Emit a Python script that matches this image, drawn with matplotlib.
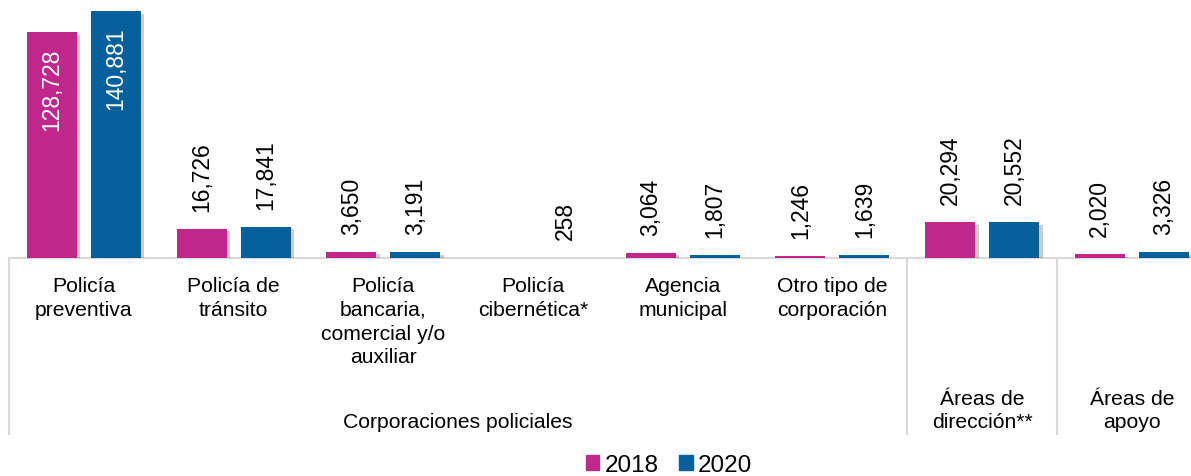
import matplotlib
matplotlib.use("Agg")
import matplotlib.pyplot as plt
import matplotlib.patheffects as pe
import numpy as np
from matplotlib.lines import Line2D
from matplotlib.patches import Patch

plt.rcParams["font.family"] = ["Liberation Sans", "DejaVu Sans"]

categories = [
    "Policía\npreventiva",
    "Policía de\ntránsito",
    "Policía\nbancaria,\ncomercial y/o\nauxiliar",
    "Policía\ncibernética*",
    "Agencia\nmunicipal",
    "Otro tipo de\ncorporación",
]
groups = ["Corporaciones policiales", "Áreas de\ndirección**", "Áreas de\napoyo"]
series_names = ["2018", "2020"]
values_2018 = [128728, 16726, 3650, np.nan, 3064, 1246, 20294, 2020]
values_2020 = [140881, 17841, 3191, 258, 1807, 1639, 20552, 3326]

C18 = "#C1268A"
C20 = "#03609A"
GRID = "#D9D9D9"

W, H = 1191, 477
fig = plt.figure(figsize=(W / 100, H / 100), dpi=100)
ax_top, ax_base, ax_left = 10, 259, 9
ax = fig.add_axes([ax_left / W, (H - ax_base) / H, (W - ax_left) / W, (ax_base - ax_top) / H])

x = np.arange(len(values_2018))
bw = 0.334
off = 0.214
shadow = [pe.SimplePatchShadow(offset=(2.5, -2), shadow_rgbFace="#000000", alpha=0.2), pe.Normal()]
b1 = ax.bar(x - off, values_2018, bw, color=C18, path_effects=shadow, zorder=3)
b2 = ax.bar(x + off, values_2020, bw, color=C20, path_effects=shadow, zorder=3)

ax.set_xlim(-0.5, (W - 84) / 149.7)
ax.set_ylim(0, 140881 * 248 / 246)
for s in ["top", "right", "left"]:
    ax.spines[s].set_visible(False)
ax.spines["bottom"].set_color(GRID)
ax.spines["bottom"].set_linewidth(1.5)
ax.set_xticks([])
ax.set_yticks([])

for bars, vals in ((b1, values_2018), (b2, values_2020)):
    for rect, v in zip(bars, vals):
        if np.isnan(v):
            continue
        cx = rect.get_x() + rect.get_width() / 2
        if v > 100000:
            ax.annotate(f"{v:,.0f}", (cx, v), xytext=(0, -11), textcoords="offset points",
                        rotation=90, ha="center", va="top", color="white", fontsize=16.5, zorder=4)
        else:
            ax.annotate(f"{v:,.0f}", (cx, v), xytext=(0, 13), textcoords="offset points",
                        rotation=90, ha="center", va="bottom", color="black", fontsize=16.5, zorder=4)


def yax(px):
    return (ax_base - px) / (ax_base - ax_top)


FS = 15.2
LS = 1.32
tr = ax.get_xaxis_transform()
for i, lab in enumerate(categories):
    ax.text(i, yax(277), lab, transform=tr, ha="center", va="top", fontsize=FS,
            linespacing=LS, clip_on=False)

ax.text(2.5, yax(422), groups[0], transform=tr, ha="center", va="center", fontsize=FS, clip_on=False)
ax.text(6, yax(411), groups[1], transform=tr, ha="center", va="center", fontsize=FS,
        linespacing=LS, clip_on=False)
ax.text(7, yax(411), groups[2], transform=tr, ha="center", va="center", fontsize=FS,
        linespacing=LS, clip_on=False)

for xs in (-0.5, 5.5, 6.5):
    ax.add_line(Line2D([xs, xs], [yax(ax_base), yax(435)], transform=tr, color=GRID,
                       linewidth=1.5, clip_on=False))

handles = [Patch(color=C18), Patch(color=C20)]
fig.legend(handles, series_names, loc="center", bbox_to_anchor=(669 / W, (H - 466) / H),
           ncol=2, frameon=False, fontsize=17.5, handlelength=0.55, handleheight=0.55,
           handletextpad=0.22, columnspacing=0.85, borderpad=0.2)

fig.savefig("out.png", dpi=100)
